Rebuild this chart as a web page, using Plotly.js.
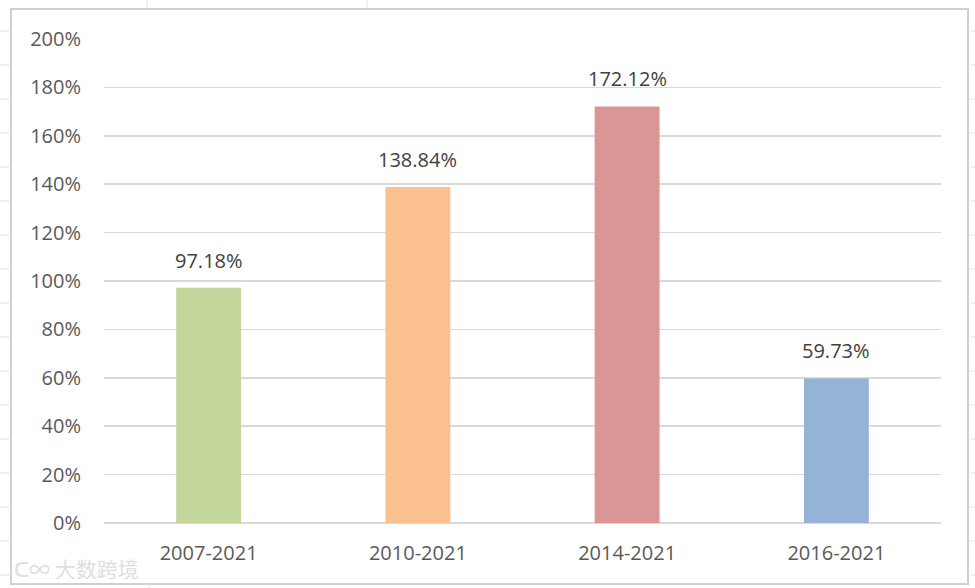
<!DOCTYPE html>
<html><head><meta charset="utf-8">
<script src="https://cdn.plot.ly/plotly-3.0.1.min.js"></script>
<style>html,body{margin:0;padding:0;background:#fff}#c{width:975px;height:588px}</style>
</head><body><div id="c"></div>
<script>
const categories = ["2007-2021", "2010-2021", "2014-2021", "2016-2021"];
const values = [97.18, 138.84, 172.12, 59.73];
const labels = ["97.18%", "138.84%", "172.12%", "59.73%"];
const barColors = ["#c3d69b", "#fac08f", "#d99694", "#95b3d7"];
const yTicks = [0, 20, 40, 60, 80, 100, 120, 140, 160, 180, 200];
const yTickText = yTicks.map(v => v + "%");

const font = "'Open Sans', 'Noto Sans', sans-serif";

const trace = {
  type: "bar", x: categories, y: values, width: 0.31,
  marker: {color: barColors, line: {width: 0}},
  hoverinfo: "skip"
};

const annotations = categories.map((c, i) => ({
  x: c, y: values[i], xref: "x", yref: "y", text: labels[i], showarrow: false,
  yanchor: "bottom", yshift: 12, font: {family: font, size: 20, color: "#404040"}
}));
annotations.push({
  xref: "paper", yref: "paper", x: (12-104)/837, y: (523-568)/484, xanchor: "left", yanchor: "middle",
  text: "ᑕ∞ 大数跨境", showarrow: false,
  font: {family: "'Noto Sans CJK SC', sans-serif", size: 21, color: "#dedede"}
});

const shapes = [];
[31, 65, 99, 133, 167, 201, 235, 269, 303, 337, 371, 405, 439, 473, 507, 541, 575].forEach(y => {
  shapes.push({type: "line", xref: "paper", yref: "paper", x0: -104/837, x1: -93/837,
    y0: (523 - y)/484, y1: (523 - y)/484, line: {color: "#e3e3e3", width: 1}});
  shapes.push({type: "line", xref: "paper", yref: "paper", x0: (968-104)/837, x1: (975-104)/837,
    y0: (523 - y)/484, y1: (523 - y)/484, line: {color: "#e3e3e3", width: 1}});
});
[147, 367].forEach(x => shapes.push({type: "line", xref: "paper", yref: "paper",
  x0: (x-104)/837, x1: (x-104)/837, y0: (523-0)/484, y1: (523-9)/484, line: {color: "#e3e3e3", width: 1}}));
[149].forEach(x => shapes.push({type: "line", xref: "paper", yref: "paper",
  x0: (x-104)/837, x1: (x-104)/837, y0: (523-584)/484, y1: (523-588)/484, line: {color: "#e3e3e3", width: 1}}));
shapes.push({type: "rect", xref: "paper", yref: "paper",
  x0: (11-104)/837, x1: (968-104)/837, y0: (523-584)/484, y1: (523-9)/484,
  line: {color: "#d0d0d0", width: 2}, fillcolor: "rgba(0,0,0,0)", layer: "below"});

const layout = {
  width: 975, height: 588,
  margin: {l: 104, r: 34, t: 39, b: 65, pad: 0},
  paper_bgcolor: "#ffffff", plot_bgcolor: "#ffffff",
  showlegend: false,
  font: {family: font, color: "#595959"},
  xaxis: {type: "category", showgrid: false, showline: false, zeroline: false, ticks: "",
    tickfont: {family: font, size: 20, color: "#595959"}, ticklabelstandoff: 16, fixedrange: true},
  yaxis: {range: [0, 200], tickvals: yTicks, ticktext: yTickText, showgrid: true,
    gridcolor: "#d9d9d9", gridwidth: 1.5, zeroline: true, zerolinecolor: "#d9d9d9", zerolinewidth: 1.5,
    showline: false, ticks: "", tickfont: {family: font, size: 20, color: "#595959"},
    ticklabelstandoff: 22, fixedrange: true},
  annotations: annotations,
  shapes: shapes
};

Plotly.newPlot("c", [trace], layout, {displayModeBar: false, staticPlot: true});
</script></body></html>
